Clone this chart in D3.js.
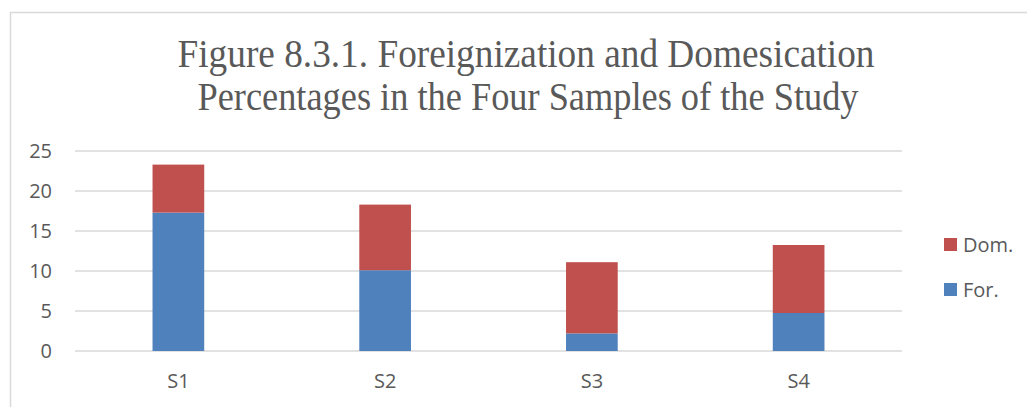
<!DOCTYPE html>
<html>
<head>
<meta charset="utf-8">
<script src="https://cdn.jsdelivr.net/npm/d3@7"></script>
<style>
  body { margin: 0; background: #fff; }
  text { fill: #595959; }
</style>
</head>
<body>
<div id="chart-area"></div>
<script>
// data
var samples = ["S1", "S2", "S3", "S4"];
var forValues = [17.3, 10.1, 2.2, 4.75];
var domValues = [6.0, 8.2, 8.9, 8.5];
var yTicks = [0, 5, 10, 15, 20, 25];
var seriesNames = ["For.", "Dom."];
var seriesColors = ["#4f81bd", "#c0504d"];
var titleLines = ["Figure 8.3.1. Foreignization and Domesication",
                  "Percentages in the Four Samples of the Study"];

var W = 1027, H = 407;
var margin = { left: 75, right: 125, top: 151, bottom: 56 };

var svg = d3.select("#chart-area")
    .append("svg")
    .attr("width", W)
    .attr("height", H);

// chart border
svg.append("path")
    .attr("d", "M10.5," + H + "V12.5H" + W)
    .attr("fill", "none")
    .attr("stroke", "#d9d9d9")
    .attr("stroke-width", 1.5);

// Title
var titleX = [526, 528], titleY = [67, 110], titleLen = [697, 661];
titleLines.forEach(function(s, i) {
    svg.append("text")
        .attr("x", titleX[i])
        .attr("y", titleY[i])
        .attr("text-anchor", "middle")
        .attr("font-family", "'Liberation Serif', 'Times New Roman', serif")
        .attr("font-size", "39px")
        .attr("textLength", titleLen[i])
        .attr("lengthAdjust", "spacingAndGlyphs")
        .text(s);
});

// Scales
var x = d3.scaleBand()
    .domain(samples)
    .range([margin.left, W - margin.right])
    .paddingInner(0.75)
    .paddingOuter(0.375);
var y = d3.scaleLinear()
    .domain([0, 25])
    .range([H - margin.bottom, margin.top]);

// gridlines
svg.append("g")
    .selectAll("line")
    .data(yTicks)
    .enter().append("line")
    .attr("x1", margin.left)
    .attr("x2", W - margin.right)
    .attr("y1", function(d) { return y(d); })
    .attr("y2", function(d) { return y(d); })
    .attr("stroke", "#d9d9d9")
    .attr("stroke-width", 1.5);

// Y-axis
var yAxisCall = d3.axisLeft(y).tickValues(yTicks).tickSize(0).tickPadding(0);
var yAxis = svg.append("g")
    .attr("transform", "translate(52,0)")
    .call(yAxisCall);
yAxis.select(".domain").remove();
yAxis.selectAll("text")
    .attr("font-family", "'Open Sans', sans-serif")
    .attr("font-size", "20px")
    .style("fill", "#595959");

// X-axis
var xAxisCall = d3.axisBottom(x).tickSize(0).tickPadding(0);
var xAxis = svg.append("g")
    .attr("transform", "translate(0,374)")
    .call(xAxisCall);
xAxis.select(".domain").remove();
xAxis.selectAll("text")
    .attr("font-family", "'Open Sans', sans-serif")
    .attr("font-size", "20px")
    .style("fill", "#595959");

// stacked bars
var rows = samples.map(function(s, i) {
    return { sample: s, "For.": forValues[i], "Dom.": domValues[i] };
});
var stack = d3.stack().keys(seriesNames)(rows);

svg.append("g")
    .selectAll("g")
    .data(stack)
    .enter().append("g")
    .attr("fill", function(d, i) { return seriesColors[i]; })
    .selectAll("rect")
    .data(function(d) { return d; })
    .enter().append("rect")
    .attr("x", function(d) { return x(d.data.sample); })
    .attr("width", x.bandwidth())
    .attr("y", function(d) { return y(d[1]); })
    .attr("height", function(d) { return y(d[0]) - y(d[1]); });

// Legend (Dom. on top)
var legend = svg.append("g")
    .selectAll("g")
    .data([1, 0])
    .enter().append("g")
    .attr("transform", function(d, i) { return "translate(944," + (238 + i * 45) + ")"; });
legend.append("rect")
    .attr("width", 13)
    .attr("height", 13)
    .attr("fill", function(d) { return seriesColors[d]; });
legend.append("text")
    .attr("x", 19)
    .attr("y", 14)
    .attr("font-family", "'Open Sans', sans-serif")
    .attr("font-size", "20px")
    .text(function(d) { return seriesNames[d]; });
</script>
</body>
</html>
